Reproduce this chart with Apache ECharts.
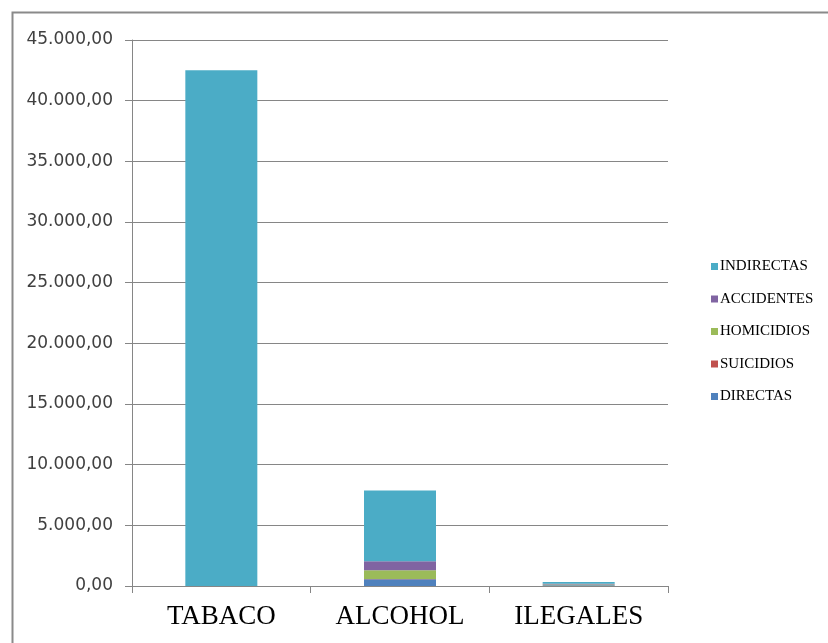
<!DOCTYPE html>
<html>
<head>
<meta charset="utf-8">
<script src="https://cdn.jsdelivr.net/npm/echarts@6/dist/echarts.min.js"></script>
<style>html,body{margin:0;padding:0;background:#fff}#c{width:828px;height:643px}</style>
</head>
<body>
<div id="c"></div>
<script>
const categories = ['TABACO', 'ALCOHOL', 'ILEGALES'];
const directas   = [0, 550, 60];
const suicidios  = [0, 30, 0];
const homicidios = [0, 710, 60];
const accidentes = [0, 740, 60];
const indirectas = [42500, 5850, 150];
const legendOrder = ['INDIRECTAS', 'ACCIDENTES', 'HOMICIDIOS', 'SUICIDIOS', 'DIRECTAS'];

function fmt(v) {
  const s = Math.round(v).toString().replace(/\B(?=(\d{3})+(?!\d))/g, '.');
  return s + ',00';
}

const chart = echarts.init(document.getElementById('c'));
const mk = (name, data, color) => ({
  name, type: 'bar', stack: 'total', data, barWidth: 72,
  itemStyle: { color }
});
chart.setOption({
  animation: false,
  graphic: [{
    type: 'rect', left: 10, top: 10, z: 100,
    shape: { x: 0, y: 0, width: 840, height: 660 },
    style: { fill: 'none', stroke: '#8a8a8a', lineWidth: 2 }
  }],
  grid: { left: 132, top: 40, width: 536, bottom: 57 },
  legend: {
    data: legendOrder,
    orient: 'vertical',
    left: 706, top: 254,
    itemWidth: 7, itemHeight: 7, itemGap: 17.5,
    icon: 'rect',
    textStyle: { fontFamily: 'Liberation Serif', fontSize: 15, color: '#000', padding: [0, 0, 0, -3] }
  },
  xAxis: {
    type: 'category', data: categories,
    axisLine: { lineStyle: { color: '#868686', width: 1 } },
    axisTick: { show: true, length: 7, lineStyle: { color: '#868686' } },
    axisLabel: { fontFamily: 'Liberation Serif', fontSize: 27, color: '#000', margin: 17 }
  },
  yAxis: {
    type: 'value', min: 0, max: 45000, interval: 5000,
    axisLine: { show: true, lineStyle: { color: '#868686', width: 1 } },
    axisTick: { show: true, length: 7, lineStyle: { color: '#868686' } },
    splitLine: { lineStyle: { color: '#868686', width: 1 } },
    axisLabel: { fontFamily: 'DejaVu Sans', fontSize: 17, color: '#404040', margin: 19, formatter: fmt }
  },
  series: [
    mk('DIRECTAS', directas, '#4F81BD'),
    mk('SUICIDIOS', suicidios, '#C0504D'),
    mk('HOMICIDIOS', homicidios, '#9BBB59'),
    mk('ACCIDENTES', accidentes, '#8064A2'),
    mk('INDIRECTAS', indirectas, '#4BACC6')
  ]
});
</script>
</body>
</html>
